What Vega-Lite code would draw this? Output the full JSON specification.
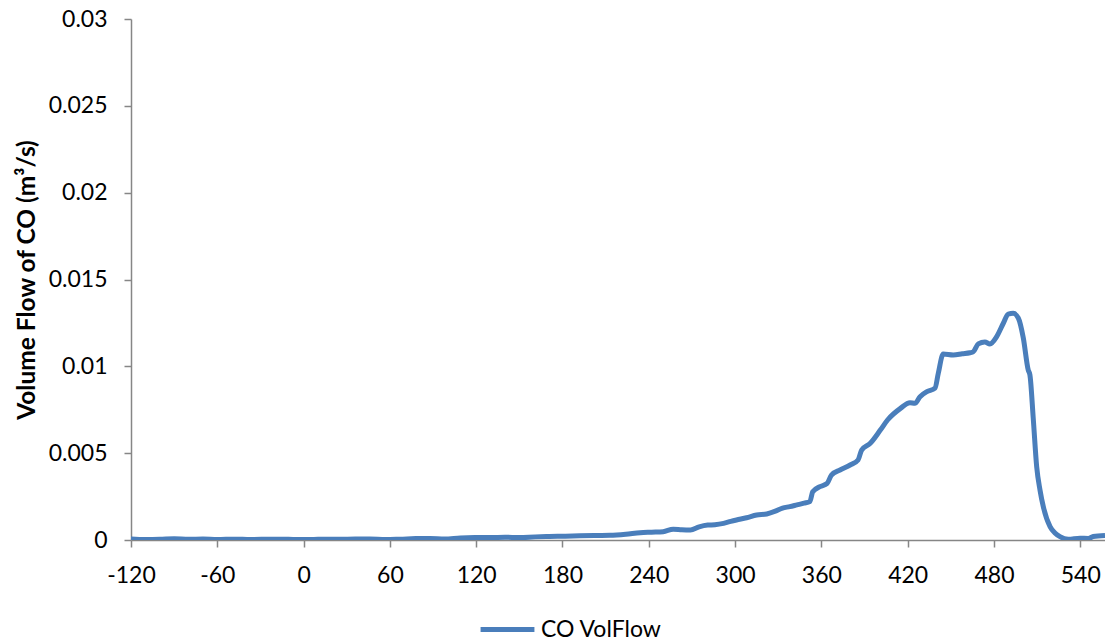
{
  "$schema": "https://vega.github.io/schema/vega-lite/v6.json",
  "autosize": "none",
  "width": 974,
  "height": 521,
  "padding": {"left": 131, "top": 19, "right": 0, "bottom": 102},
  "background": "white",
  "config": {
    "view": {"stroke": null},
    "font": "Lato",
    "axis": {
      "grid": false,
      "domainColor": "#868686",
      "domainWidth": 1.5,
      "tickColor": "#868686",
      "tickWidth": 1.5,
      "tickSize": 7,
      "labelFont": "Lato",
      "labelFontSize": 23,
      "labelColor": "#000000",
      "labelPadding": 17,
      "titleFont": "Lato",
      "titleColor": "#000000"
    },
    "legend": {
      "orient": "none",
      "legendX": 347,
      "legendY": 581,
      "padding": 0,
      "symbolType": "stroke",
      "symbolSize": 2900,
      "symbolStrokeWidth": 5,
      "labelFont": "Lato",
      "labelFontSize": 23,
      "labelColor": "#000000",
      "labelOffset": 4
    }
  },
  "data": {
    "values": [
      {"t": -120, "v": 0.00006},
      {"t": -110, "v": 0.00003},
      {"t": -100, "v": 0.00004},
      {"t": -90, "v": 0.00007},
      {"t": -80, "v": 0.00004},
      {"t": -70, "v": 0.00006},
      {"t": -60, "v": 0.00003},
      {"t": -48, "v": 0.00005},
      {"t": -37, "v": 0.00003},
      {"t": -26, "v": 0.00004},
      {"t": -16, "v": 0.00005},
      {"t": -5, "v": 0.00003},
      {"t": 5, "v": 0.00003},
      {"t": 15, "v": 0.00005},
      {"t": 25, "v": 0.00004},
      {"t": 36, "v": 0.00006},
      {"t": 46, "v": 0.00006},
      {"t": 57, "v": 0.00003},
      {"t": 67, "v": 0.00005},
      {"t": 78, "v": 0.00008},
      {"t": 88, "v": 0.00009},
      {"t": 98, "v": 0.00006},
      {"t": 109, "v": 0.00012},
      {"t": 119, "v": 0.00014},
      {"t": 130, "v": 0.00014},
      {"t": 140, "v": 0.00016},
      {"t": 150, "v": 0.00014},
      {"t": 161, "v": 0.00018},
      {"t": 171, "v": 0.0002},
      {"t": 182, "v": 0.00022},
      {"t": 192, "v": 0.00024},
      {"t": 203, "v": 0.00026},
      {"t": 213, "v": 0.00027},
      {"t": 224, "v": 0.00033},
      {"t": 234, "v": 0.00042},
      {"t": 242, "v": 0.00045},
      {"t": 250, "v": 0.00048},
      {"t": 257, "v": 0.00062},
      {"t": 263, "v": 0.00059},
      {"t": 269, "v": 0.00058},
      {"t": 275, "v": 0.00076},
      {"t": 281, "v": 0.00086},
      {"t": 286, "v": 0.00088},
      {"t": 292, "v": 0.00096},
      {"t": 297, "v": 0.00107},
      {"t": 301, "v": 0.00115},
      {"t": 308, "v": 0.00128},
      {"t": 315, "v": 0.00144},
      {"t": 322, "v": 0.0015},
      {"t": 328, "v": 0.00166},
      {"t": 333, "v": 0.00184},
      {"t": 338, "v": 0.00192},
      {"t": 343, "v": 0.00202},
      {"t": 348, "v": 0.00212},
      {"t": 352, "v": 0.00221},
      {"t": 354, "v": 0.00278},
      {"t": 359, "v": 0.00307},
      {"t": 364, "v": 0.00326},
      {"t": 367, "v": 0.00374},
      {"t": 373, "v": 0.00403},
      {"t": 380, "v": 0.00432},
      {"t": 385.5, "v": 0.00461},
      {"t": 388, "v": 0.00518},
      {"t": 394, "v": 0.00557},
      {"t": 401, "v": 0.00633},
      {"t": 406, "v": 0.00691},
      {"t": 415, "v": 0.00758},
      {"t": 421.6, "v": 0.00791},
      {"t": 425, "v": 0.00787},
      {"t": 428.6, "v": 0.00825},
      {"t": 433.4, "v": 0.00854},
      {"t": 439, "v": 0.00874},
      {"t": 441.3, "v": 0.0096},
      {"t": 444.7, "v": 0.01071},
      {"t": 451.7, "v": 0.01065},
      {"t": 458, "v": 0.01072},
      {"t": 463.3, "v": 0.01078},
      {"t": 465.6, "v": 0.01084},
      {"t": 469.1, "v": 0.01129},
      {"t": 473.7, "v": 0.0114},
      {"t": 477.2, "v": 0.01129},
      {"t": 481.9, "v": 0.01171},
      {"t": 486.5, "v": 0.01248},
      {"t": 489.9, "v": 0.01301},
      {"t": 493.4, "v": 0.01305},
      {"t": 496.9, "v": 0.01278},
      {"t": 500.4, "v": 0.01163},
      {"t": 503.8, "v": 0.00979},
      {"t": 505, "v": 0.0095},
      {"t": 507.3, "v": 0.00702},
      {"t": 509.7, "v": 0.00422},
      {"t": 512, "v": 0.00288},
      {"t": 514.3, "v": 0.00192},
      {"t": 519, "v": 0.00077},
      {"t": 522.4, "v": 0.0004},
      {"t": 525.9, "v": 0.00019},
      {"t": 531.7, "v": 0.00004},
      {"t": 539.8, "v": 0.0001},
      {"t": 545.6, "v": 0.00009},
      {"t": 549, "v": 0.0002},
      {"t": 557.2, "v": 0.00026}
    ]
  },
  "mark": {"type": "line", "strokeWidth": 5, "interpolate": "monotone", "clip": true},
  "encoding": {
    "x": {
      "field": "t",
      "type": "quantitative",
      "scale": {"domain": [-120, 557.2], "nice": false, "zero": false},
      "axis": {
        "title": null,
        "values": [-120, -60, 0, 60, 120, 180, 240, 300, 360, 420, 480, 540],
        "labelExpr": "'' + datum.value",
        "labelFlush": false,
        "labelOverlap": false
      }
    },
    "y": {
      "field": "v",
      "type": "quantitative",
      "scale": {"domain": [0, 0.03], "nice": false},
      "axis": {
        "title": "Volume Flow of CO (m³/s)",
        "titleFontSize": 24.5,
        "titleFontWeight": "bold",
        "titlePadding": 9,
        "values": [0, 0.005, 0.01, 0.015, 0.02, 0.025, 0.03],
        "labelExpr": "'' + datum.value",
        "labelOverlap": false
      }
    },
    "color": {
      "datum": "CO VolFlow",
      "type": "nominal",
      "scale": {"range": ["#4a7ebb"]},
      "legend": {"title": null}
    }
  }
}
